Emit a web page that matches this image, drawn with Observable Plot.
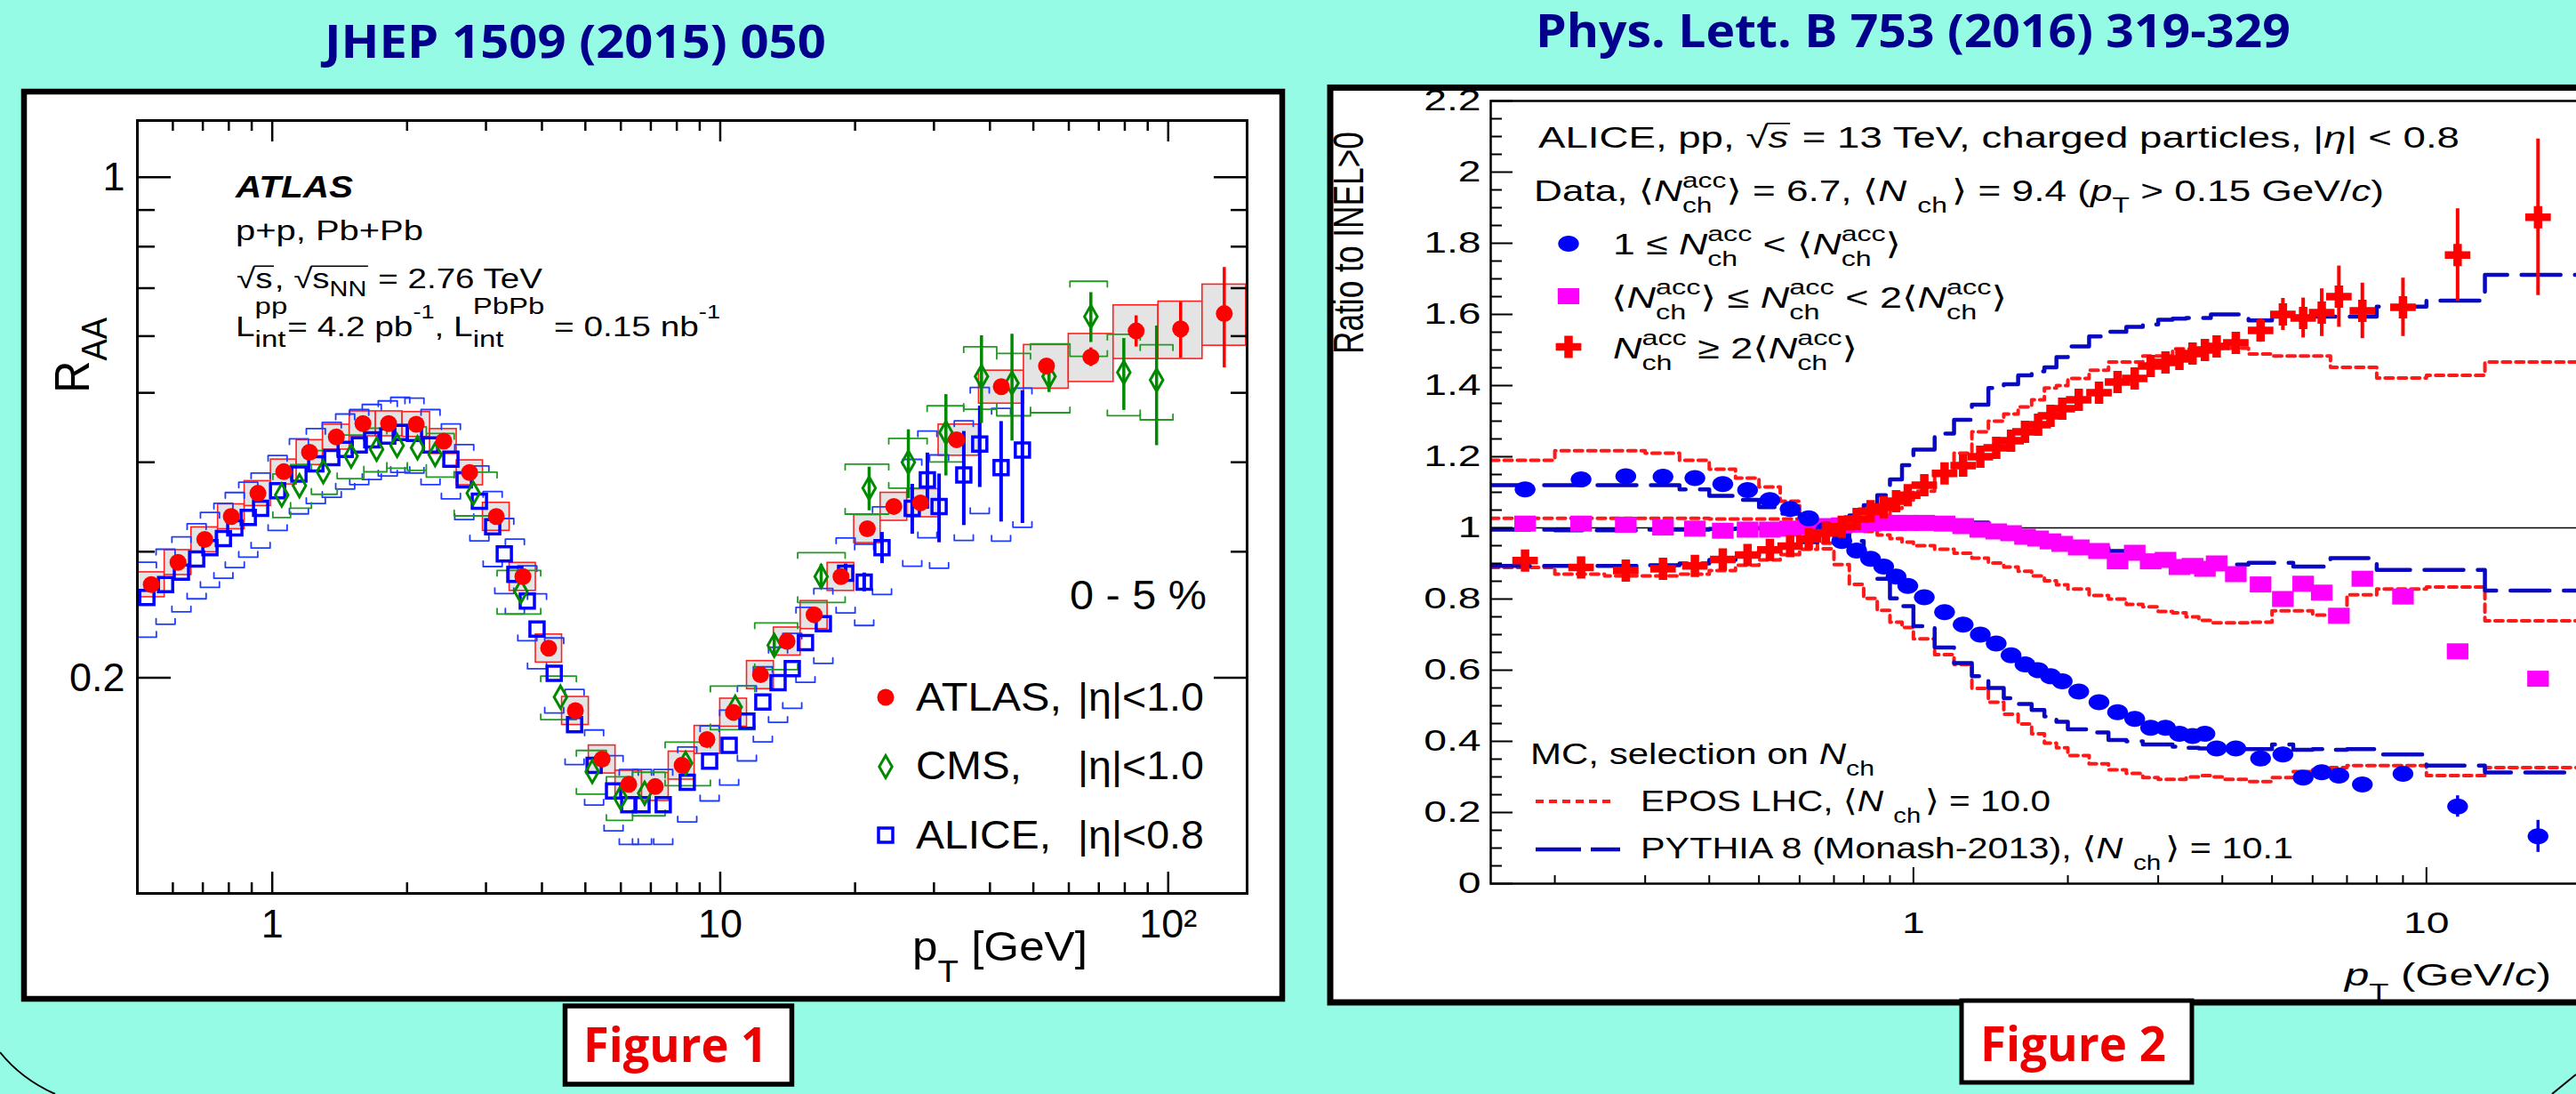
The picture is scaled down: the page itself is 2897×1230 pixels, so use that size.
<!DOCTYPE html>
<html><head><meta charset="utf-8">
<script src="https://cdn.jsdelivr.net/npm/d3@7"></script>
<script src="https://cdn.jsdelivr.net/npm/@observablehq/plot@0.6"></script>
<style>
html,body{margin:0;padding:0;}
body{width:2897px;height:1230px;overflow:hidden;background:#96fbe4;position:relative;}
.layer{position:absolute;left:0;top:0;overflow:visible;}
#leftPlot{position:absolute;left:0;top:0;width:1440px;height:1120px;}
#rightPlot{position:absolute;left:1491px;top:0;width:1420px;height:1128px;}
</style></head><body>
<svg id="base" class="layer" width="2897" height="1230"></svg>
<div id="leftPlot"></div>
<div id="rightPlot"></div>
<svg id="over" class="layer" width="2897" height="1230"></svg>
<script>
// ================= Figure 1 (ATLAS/CMS/ALICE R_AA) =================
const atlasPt  = [0.537,0.616,0.707,0.810,0.929,1.061,1.211,1.390,1.594,1.819,2.096,2.415,2.757,3.162,3.627,4.14,4.75,5.45,6.25,7.16,8.22,9.34,10.7,12.3,14.1,16.2,18.6,21.3,24.4,28.0,33.7,42.4,53.5,67.2,84.8,106.6,133.4];
const atlasRaa = [0.270,0.290,0.312,0.336,0.362,0.388,0.413,0.434,0.453,0.453,0.452,0.428,0.387,0.336,0.277,0.220,0.180,0.154,0.142,0.141,0.151,0.164,0.179,0.202,0.225,0.245,0.277,0.323,0.347,0.351,0.430,0.510,0.545,0.561,0.610,0.614,0.645];
const atlasSys = [0.04,0.04,0.04,0.04,0.04,0.04,0.04,0.04,0.04,0.04,0.04,0.04,0.04,0.045,0.045,0.045,0.045,0.045,0.045,0.045,0.045,0.045,0.045,0.045,0.045,0.045,0.045,0.045,0.045,0.045,0.05,0.053,0.07,0.077,0.086,0.092,0.098];
const atlasStat= [0,0,0,0,0,0,0,0,0,0,0,0,0,0,0,0,0,0,0,0,0,0,0,0,0,0,0,0,0,0,0,0.01,0.015,0.03,0.05,0.09,0.16];

const cmsPt  = [1.05,1.15,1.30,1.50,1.71,1.90,2.11,2.31,2.81,3.59,4.40,5.18,5.99,6.78,8.37,10.8,13.2,16.8,21.5,26.3,31.9,38.3,44.8,54.2,67.2,79.6,94.2];
const cmsRaa = [0.360,0.371,0.388,0.408,0.417,0.422,0.419,0.410,0.362,0.264,0.188,0.148,0.136,0.138,0.152,0.182,0.222,0.277,0.368,0.400,0.440,0.527,0.516,0.527,0.639,0.534,0.521];
const cmsSys = [0.07,0.07,0.07,0.07,0.07,0.07,0.07,0.07,0.07,0.07,0.07,0.07,0.07,0.07,0.07,0.07,0.075,0.08,0.08,0.08,0.09,0.10,0.10,0.11,0.12,0.13,0.12];
const cmsStat= [0,0,0,0,0,0,0,0,0,0,0,0,0,0,0,0,0.03,0.04,0.07,0.11,0.13,0.14,0.17,0.05,0.08,0.115,0.19];

const alicePt  = [0.525,0.578,0.627,0.678,0.726,0.778,0.825,0.884,0.942,1.028,1.147,1.251,1.358,1.455,1.564,1.668,1.811,1.931,2.077,2.256,2.505,2.683,2.90,3.105,3.296,3.48,3.71,3.90,4.26,4.73,5.23,5.78,6.25,6.69,7.46,8.44,9.47,10.47,11.47,12.45,13.46,14.48,15.50,16.99,19.05,20.96,22.97,26.83,29.0,30.8,34.97,37.96,42.36,47.27];
const aliceRaa = [0.259,0.270,0.281,0.293,0.304,0.313,0.324,0.335,0.345,0.365,0.385,0.398,0.406,0.417,0.423,0.430,0.435,0.440,0.439,0.423,0.404,0.378,0.353,0.325,0.298,0.279,0.256,0.234,0.203,0.172,0.151,0.139,0.133,0.133,0.133,0.143,0.153,0.161,0.174,0.185,0.197,0.206,0.224,0.238,0.280,0.272,0.304,0.345,0.378,0.347,0.384,0.424,0.393,0.416];
const aliceSys = [0.12,0.12,0.12,0.12,0.12,0.12,0.12,0.12,0.12,0.12,0.12,0.12,0.12,0.12,0.12,0.12,0.12,0.12,0.12,0.12,0.12,0.12,0.12,0.12,0.12,0.12,0.12,0.12,0.12,0.12,0.12,0.12,0.12,0.12,0.12,0.12,0.12,0.12,0.12,0.12,0.12,0.12,0.12,0.12,0.12,0.13,0.14,0.17,0.17,0.18,0.19,0.20,0.21,0.22];
const aliceStat= [0,0,0,0,0,0,0,0,0,0,0,0,0,0,0,0,0,0,0,0,0,0,0,0,0,0,0,0,0,0,0,0,0,0,0,0,0,0,0,0,0,0,0,0,0.03,0.03,0.05,0.08,0.09,0.11,0.15,0.13,0.16,0.21];

const fig1XTicks = [1,10,100];
const fig1XMinor = [0.6,0.7,0.8,0.9,2,3,4,5,6,7,8,9,20,30,40,50,60,70,80,90];
const fig1YTicks = [0.2,1];
const fig1YMinor = [0.3,0.4,0.5,0.6,0.7,0.8,0.9];

// ================= Figure 2 (ALICE pp 13 TeV ratios) =================
const ptEdges = [0.15,0.2,0.25,0.3,0.35,0.4,0.45,0.5,0.55,0.6,0.65,0.7,0.75,0.8,0.85,0.9,0.95,1.0,1.1,1.2,1.3,1.4,1.5,1.6,1.7,1.8,1.9,2.0,2.2,2.4,2.6,2.8,3.0,3.2,3.4,3.6,3.8,4.0,4.5,5.0,5.5,6.0,6.5,7.0,8.0,10,13,20];
const ptCent  = [0.175,0.225,0.275,0.325,0.375,0.425,0.475,0.525,0.575,0.625,0.675,0.725,0.775,0.825,0.875,0.925,0.975,1.05,1.15,1.25,1.35,1.45,1.55,1.65,1.75,1.85,1.95,2.1,2.3,2.5,2.7,2.9,3.1,3.3,3.5,3.7,3.9,4.25,4.75,5.25,5.75,6.25,6.75,7.5,9,11.5,16.5];
const lowMult  = [1.108,1.136,1.145,1.144,1.140,1.123,1.106,1.078,1.053,1.027,0.995,0.963,0.936,0.913,0.891,0.863,0.837,0.805,0.763,0.728,0.700,0.675,0.642,0.616,0.600,0.583,0.569,0.540,0.510,0.482,0.463,0.438,0.438,0.421,0.415,0.421,0.380,0.380,0.352,0.363,0.298,0.313,0.304,0.279,0.309,0.217,0.133];
const lowErr   = [0,0,0,0,0,0,0,0,0,0,0,0,0,0,0,0,0,0,0,0,0,0,0,0,0,0,0,0,0,0,0,0,0,0,0,0,0,0,0,0,0,0,0,0,0.01,0.03,0.045];
const midMult  = [1.012,1.012,1.009,1.001,0.998,0.992,0.995,0.995,0.998,1.003,1.005,1.007,1.009,1.012,1.014,1.014,1.014,1.014,1.012,1.005,0.995,0.990,0.985,0.975,0.970,0.962,0.955,0.945,0.935,0.906,0.930,0.906,0.910,0.890,0.893,0.885,0.900,0.870,0.841,0.800,0.843,0.818,0.753,0.857,0.807,0.653,0.576];
const midErr   = [0,0,0,0,0,0,0,0,0,0,0,0,0,0,0,0,0,0,0,0,0,0,0,0,0,0,0,0,0,0,0,0,0,0,0,0,0,0,0,0,0,0,0,0.01,0.012,0.01,0.012];
const highMult = [0.908,0.889,0.880,0.885,0.893,0.911,0.924,0.938,0.949,0.969,0.986,1.003,1.025,1.047,1.058,1.075,1.092,1.120,1.153,1.175,1.200,1.225,1.245,1.270,1.290,1.315,1.335,1.360,1.380,1.410,1.420,1.455,1.465,1.475,1.490,1.500,1.510,1.520,1.555,1.600,1.590,1.605,1.650,1.610,1.620,1.767,1.873];
const highErr  = [0,0,0,0,0,0,0,0,0,0,0,0,0,0,0,0,0,0,0,0,0,0,0,0,0,0,0,0,0,0,0,0,0,0,0,0,0,0.02,0.033,0.045,0.056,0.067,0.086,0.078,0.082,0.13,0.22];
const pythiaLow  = [1.12,1.12,1.12,1.12,1.108,1.09,1.079,1.058,1.04,1.02,1.0,0.985,0.963,0.913,0.857,0.802,0.78,0.7235,0.664,0.62,0.583,0.55,0.521,0.505,0.488,0.47,0.455,0.434,0.425,0.404,0.40,0.391,0.391,0.385,0.382,0.38,0.38,0.378,0.378,0.391,0.376,0.378,0.376,0.378,0.363,0.332,0.3125];
const pythiaMid  = [0.995,0.993,0.993,0.995,0.995,0.997,0.998,1.0,1.0,1.0,1.003,1.005,1.008,1.01,1.012,1.015,1.017,1.02,1.02,1.019,1.015,1.005,0.997,0.99,0.98,0.97,0.965,0.955,0.945,0.935,0.925,0.92,0.91,0.905,0.9,0.897,0.897,0.897,0.902,0.902,0.891,0.891,0.915,0.915,0.882,0.882,0.824];
const pythiaHigh = [0.893,0.893,0.893,0.895,0.90,0.91,0.92,0.935,0.945,0.96,0.98,1.005,1.035,1.064,1.092,1.136,1.176,1.22,1.265,1.304,1.346,1.393,1.404,1.429,1.44,1.451,1.48,1.51,1.538,1.551,1.565,1.572,1.585,1.588,1.59,1.59,1.60,1.60,1.583,1.594,1.594,1.594,1.594,1.594,1.622,1.639,1.711];
const eposLow  = [1.19,1.217,1.217,1.21,1.19,1.165,1.14,1.115,1.075,0.985,0.941,0.897,0.841,0.802,0.768,0.735,0.72,0.688,0.644,0.616,0.549,0.51,0.476,0.449,0.421,0.395,0.382,0.36,0.337,0.32,0.31,0.298,0.293,0.293,0.30,0.304,0.30,0.293,0.287,0.298,0.315,0.32,0.326,0.332,0.332,0.304,0.326];
const eposMid  = [1.027,1.027,1.027,1.027,1.027,1.025,1.025,1.025,1.025,1.02,1.015,1.01,1.0,0.99,0.98,0.97,0.96,0.95,0.94,0.929,0.915,0.901,0.89,0.878,0.865,0.851,0.84,0.828,0.81,0.80,0.785,0.778,0.765,0.761,0.75,0.74,0.733,0.733,0.735,0.767,0.767,0.755,0.76,0.812,0.828,0.834,0.739];
const eposHigh = [0.889,0.87,0.865,0.865,0.87,0.88,0.895,0.91,0.925,0.94,0.957,0.975,0.995,1.015,1.035,1.055,1.078,1.103,1.15,1.21,1.27,1.30,1.32,1.34,1.36,1.393,1.40,1.42,1.443,1.466,1.466,1.483,1.483,1.503,1.503,1.503,1.505,1.505,1.489,1.483,1.483,1.483,1.451,1.451,1.421,1.429,1.466];

const fig2XTicks = [1,10];
const fig2XMinor = [0.2,0.3,0.4,0.5,0.6,0.7,0.8,0.9,2,3,4,5,6,7,8,9];
const fig2YTicks = [0,0.2,0.4,0.6,0.8,1,1.2,1.4,1.6,1.8,2,2.2];

// ================= helpers =================
const FONT = "'Liberation Sans', Arial, 'DejaVu Sans', sans-serif";
const sym = draw => ({draw});
const diamondSym = sym((c,s)=>{const r=Math.sqrt(s/Math.PI); c.moveTo(0,-1.4*r); c.lineTo(0.8*r,0); c.lineTo(0,1.4*r); c.lineTo(-0.8*r,0); c.closePath();});
const squareSym  = sym((c,s)=>{const r=Math.sqrt(s/Math.PI); c.rect(-r,-r,2*r,2*r);});
const ellipseSym = sym((c,s)=>{const r=Math.sqrt(s/Math.PI), rx=1.3*r, ry=r, k=0.5523;
  c.moveTo(rx,0); c.bezierCurveTo(rx,ry*k,rx*k,ry,0,ry); c.bezierCurveTo(-rx*k,ry,-rx,ry*k,-rx,0);
  c.bezierCurveTo(-rx,-ry*k,-rx*k,-ry,0,-ry); c.bezierCurveTo(rx*k,-ry,rx,-ry*k,rx,0); c.closePath();});
const rectSym = sym((c,s)=>{const r=Math.sqrt(s/Math.PI); c.rect(-1.35*r,-r,2.7*r,2*r);});
const plusSym = sym((c,s)=>{const r=Math.sqrt(s/Math.PI), hw=1.15*r, hh=r, tx=0.38*r, ty=0.34*r;
  const p=[[-tx,-hh],[tx,-hh],[tx,-ty],[hw,-ty],[hw,ty],[tx,ty],[tx,hh],[-tx,hh],[-tx,ty],[-hw,ty],[-hw,-ty],[-tx,-ty]];
  c.moveTo(p[0][0],p[0][1]); for(const q of p.slice(1)) c.lineTo(q[0],q[1]); c.closePath();});
const symPath = (s,r)=>{const p=d3.path(); s.draw(p,r*r*Math.PI); return p.toString();};

function geoEdges(xs){
  return xs.map((x,i)=>{
    const lo = i>0 ? Math.sqrt(xs[i-1]*x) : x*x/Math.sqrt(x*xs[1]);
    const hi = i<xs.length-1 ? Math.sqrt(x*xs[i+1]) : x*x/Math.sqrt(xs[i-1]*x);
    return [lo,hi];
  });
}
function rows(pt, val, sys, stat, edges){
  return pt.map((x,i)=>({x, y:val[i], sys:sys[i], stat:stat[i], x1:edges[i][0], x2:edges[i][1]}));
}
function bracketPts(data, f){
  const out=[];
  data.forEach((d,i)=>{
    const yt=d.y*(1+d.sys), yb=d.y*(1-d.sys);
    out.push({k:i+"t",x:d.x1,y:yt/f},{k:i+"t",x:d.x1,y:yt},{k:i+"t",x:d.x2,y:yt},{k:i+"t",x:d.x2,y:yt/f});
    out.push({k:i+"b",x:d.x1,y:yb*f},{k:i+"b",x:d.x1,y:yb},{k:i+"b",x:d.x2,y:yb},{k:i+"b",x:d.x2,y:yb*f});
  });
  return out;
}

const atlas = rows(atlasPt, atlasRaa, atlasSys, atlasStat, geoEdges(atlasPt));
const cms   = rows(cmsPt, cmsRaa, cmsSys, cmsStat, geoEdges(cmsPt));
const aliceHW = 1.05;
const alice = rows(alicePt, aliceRaa, aliceSys, aliceStat, alicePt.map(x=>[x/aliceHW, x*aliceHW]));

// ================= Figure 1 plot =================
const W1=1440,H1=1120,mL1=154,mR1=38,mT1=135,mB1=116, fw1=W1-mL1-mR1, fh1=H1-mT1-mB1;
const leftSvg = Plot.plot({
  width:W1, height:H1, marginLeft:mL1, marginRight:mR1, marginTop:mT1, marginBottom:mB1,
  style:{background:"transparent", fontFamily:FONT, fontSize:"45px", color:"black", maxWidth:"none", overflow:"visible"},
  x:{type:"log", domain:[0.5,150], ticks:fig1XTicks, tickFormat:d=>d===100?"10²":String(d), tickSize:0, tickPadding:18, label:null},
  y:{type:"log", domain:[0.1,1.2], ticks:fig1YTicks, tickFormat:d=>d===1?"1":"0.2", tickSize:0, tickPadding:14, label:null},
  marks:[
    Plot.rect(atlas,{x1:"x1",x2:"x2",y1:d=>d.y*(1-d.sys),y2:d=>d.y*(1+d.sys),fill:"#e4e4e4",stroke:"#ff2020",strokeWidth:1.6,clip:true}),
    Plot.line(bracketPts(alice,1.018),{x:"x",y:"y",z:"k",stroke:"#1e3cff",strokeWidth:1.8,clip:true}),
    Plot.line(bracketPts(cms,1.018),{x:"x",y:"y",z:"k",stroke:"#229a22",strokeWidth:1.8,clip:true}),
    Plot.ruleX(alice.filter(d=>d.stat>0),{x:"x",y1:d=>d.y*(1-d.stat),y2:d=>d.y*(1+d.stat),stroke:"#0000ff",strokeWidth:4}),
    Plot.ruleX(cms.filter(d=>d.stat>0),{x:"x",y1:d=>d.y*(1-d.stat),y2:d=>d.y*(1+d.stat),stroke:"#008a00",strokeWidth:3.5}),
    Plot.ruleX(atlas.filter(d=>d.stat>0),{x:"x",y1:d=>d.y*(1-d.stat),y2:d=>d.y*(1+d.stat),stroke:"#ff0000",strokeWidth:3.5,clip:true}),
    Plot.dot(alice,{x:"x",y:"y",symbol:squareSym,r:8,fill:"none",stroke:"#0000ff",strokeWidth:3.5}),
    Plot.dot(cms,{x:"x",y:"y",symbol:diamondSym,r:9,fill:"none",stroke:"#008a00",strokeWidth:3}),
    Plot.dot(atlas,{x:"x",y:"y",r:9.5,fill:"#ff0000"}),
    Plot.ruleX(fig1XMinor,{insetTop:fh1-12,stroke:"black",strokeWidth:2.5}),
    Plot.ruleX(fig1XTicks,{insetTop:fh1-24,stroke:"black",strokeWidth:2.5}),
    Plot.ruleX(fig1XMinor,{insetBottom:fh1-12,stroke:"black",strokeWidth:2.5}),
    Plot.ruleX(fig1XTicks,{insetBottom:fh1-24,stroke:"black",strokeWidth:2.5}),
    Plot.ruleY(fig1YMinor,{insetRight:fw1-20,stroke:"black",strokeWidth:2.5}),
    Plot.ruleY(fig1YTicks,{insetRight:fw1-38,stroke:"black",strokeWidth:2.5}),
    Plot.ruleY(fig1YMinor,{insetLeft:fw1-18,stroke:"black",strokeWidth:2.5}),
    Plot.ruleY(fig1YTicks,{insetLeft:fw1-37,stroke:"black",strokeWidth:2.5}),
    Plot.frame({stroke:"black",strokeWidth:3})
  ]
});
document.getElementById("leftPlot").appendChild(leftSvg);

// ================= Figure 2 plot =================
const stepData = vals => vals.map((v,i)=>({x:ptEdges[i],y:v})).concat([{x:ptEdges[vals.length],y:vals[vals.length-1]}]);
const dataRows = (vals, errs) => ptCent.map((x,i)=>({x, y:vals[i], e:errs[i]}));
const lowRows = dataRows(lowMult, lowErr), midRows = dataRows(midMult, midErr), highRows = dataRows(highMult, highErr);
const fig2YMinor = d3.range(0,2.2001,0.05).map(v=>+v.toFixed(2)).filter(v=>Math.abs(v*5-Math.round(v*5))>1e-6);
const W2=1420,H2=1128,mL2=185,mR2=9,mT2=113,mB2=135, fw2=W2-mL2-mR2, fh2=H2-mT2-mB2;
const EPOS_C="#ff1a1a", PY_C="#0808c4";
const eposStyle = {x:"x",y:"y",curve:"step-after",stroke:EPOS_C,strokeWidth:4,strokeDasharray:"9,6",clip:true};
const pyStyle = {x:"x",y:"y",curve:"step-after",stroke:PY_C,strokeWidth:4.5,strokeDasharray:"44,16",clip:true};
const rightSvg = Plot.plot({
  width:W2, height:H2, marginLeft:mL2, marginRight:mR2, marginTop:mT2, marginBottom:mB2,
  style:{background:"transparent", fontFamily:FONT, fontSize:"34px", color:"black", maxWidth:"none", overflow:"visible"},
  x:{type:"log", domain:[0.15,20], ticks:fig2XTicks, tickFormat:d=>String(d), tickSize:0, tickPadding:31, label:null},
  y:{domain:[0,2.2], ticks:fig2YTicks, tickFormat:d=>Number.isInteger(d)?String(d):d.toFixed(1), tickSize:0, tickPadding:11, label:null},
  marks:[
    Plot.ruleY([1],{stroke:"black",strokeWidth:1.6}),
    Plot.line(stepData(eposLow),eposStyle),
    Plot.line(stepData(eposMid),eposStyle),
    Plot.line(stepData(eposHigh),eposStyle),
    Plot.line(stepData(pythiaLow),pyStyle),
    Plot.line(stepData(pythiaMid),pyStyle),
    Plot.line(stepData(pythiaHigh),pyStyle),
    Plot.ruleX(lowRows.filter(d=>d.e>0),{x:"x",y1:d=>d.y-d.e,y2:d=>d.y+d.e,stroke:"#0000ff",strokeWidth:3.5}),
    Plot.ruleX(midRows.filter(d=>d.e>0),{x:"x",y1:d=>d.y-d.e,y2:d=>d.y+d.e,stroke:"#ff00ff",strokeWidth:3.5}),
    Plot.ruleX(highRows.filter(d=>d.e>0),{x:"x",y1:d=>d.y-d.e,y2:d=>d.y+d.e,stroke:"#ff0000",strokeWidth:4}),
    Plot.dot(midRows,{x:"x",y:"y",symbol:rectSym,r:9,fill:"#ff00ff",clip:true}),
    Plot.dot(lowRows,{x:"x",y:"y",symbol:ellipseSym,r:9,fill:"#0000ff",clip:true}),
    Plot.dot(highRows,{x:"x",y:"y",symbol:plusSym,r:12.5,fill:"#ff0000",clip:true}),
    Plot.ruleX(fig2XMinor,{insetTop:fh2-9,stroke:"black",strokeWidth:2}),
    Plot.ruleX(fig2XTicks,{insetTop:fh2-18,stroke:"black",strokeWidth:2}),
    Plot.ruleY(fig2YMinor,{insetRight:fw2-13,stroke:"black",strokeWidth:2}),
    Plot.ruleY(fig2YTicks,{insetRight:fw2-25,stroke:"black",strokeWidth:2}),
    Plot.frame({stroke:"black",strokeWidth:2.5})
  ]
});
document.getElementById("rightPlot").appendChild(rightSvg);
// Figure 2 is horizontally stretched on the slide: stretch its tick labels too
d3.select(rightSvg).selectAll('g[aria-label^="x-axis"] text, g[aria-label^="y-axis"] text').each(function(){
  const tr=this.getAttribute("transform")||""; this.setAttribute("transform", tr+" scale(1.36,1)");
});

// ================= slide decoration & texts =================
const base = d3.select("#base"), over = d3.select("#over");
base.append("rect").attr("x",27).attr("y",103).attr("width",1415).attr("height",1020).attr("fill","white").attr("stroke","black").attr("stroke-width",6.5);
base.append("rect").attr("x",1496).attr("y",98.5).attr("width",1420).attr("height",1028.5).attr("fill","white").attr("stroke","black").attr("stroke-width",7);

function rich(parent, o){
  const {x,y,tokens,size,width=null,length=null,family=FONT,weight=null,italic=false,fill="black",rotate=false,stretch=1} = o;
  const outer=parent.append("g"), inner=outer.append("g");
  let cx=0;
  const put=(txt,fs,dy,op={})=>{
    const t=inner.append("text").attr("x",cx).attr("y",dy).attr("font-size",fs).attr("font-family",op.family||family)
      .attr("fill",fill).style("white-space","pre").text(txt);
    const it = op.it!==undefined?op.it:italic; if(it) t.attr("font-style","italic");
    const b = op.b!==undefined?op.b:weight; if(b) t.attr("font-weight",b);
    return t.node().getComputedTextLength();
  };
  const run=toks=>{
    for(const tk of toks){
      if(typeof tk==="string") cx+=put(tk,size,0);
      else if(tk.sqrt){
        cx+=put("√",size,0,{it:false});
        const x0=cx; run(tk.sqrt);
        inner.append("line").attr("x1",x0-size*0.04).attr("x2",cx+size*0.04).attr("y1",-size*0.8).attr("y2",-size*0.8).attr("stroke",fill).attr("stroke-width",size*0.05);
        cx+=size*0.06;
      } else if(tk.sub!==undefined||tk.sup!==undefined){
        const sc=tk.sc||0.72, c0=cx; let w=0;
        if(tk.sup!==undefined){cx=c0; w=Math.max(w,put(tk.sup,size*sc,tk.supDy!==undefined?tk.supDy:-size*0.55,{it:false}));}
        if(tk.sub!==undefined){cx=c0; w=Math.max(w,put(tk.sub,size*sc,tk.subDy!==undefined?tk.subDy:size*0.36,{it:false}));}
        cx=c0+w+(tk.gap||0);
      } else if(tk.t!==undefined) cx+=put(tk.t,size*(tk.s||1),tk.dy||0,tk);
    }
  };
  run(tokens);
  const target = length||width||cx, k=target/cx;
  inner.attr("transform", rotate?`rotate(-90) scale(${k},1)`:`scale(${k},1)`);
  outer.attr("transform", `translate(${x},${y})`+(stretch!==1?` scale(${stretch},1)`:""));
}

// Titles
rich(over,{x:365,y:65,tokens:["JHEP 1509 (2015) 050"],size:52,width:564,family:"'Open Sans', 'Noto Sans', sans-serif",weight:700,fill:"#00008c"});
rich(over,{x:1727,y:53,tokens:["Phys. Lett. B 753 (2016) 319-329"],size:52,width:849,family:"'Open Sans', 'Noto Sans', sans-serif",weight:700,fill:"#00008c"});

// Figure labels
over.append("rect").attr("x",635.5).attr("y",1131).attr("width",255).attr("height",88).attr("fill","white").attr("stroke","black").attr("stroke-width",5.5);
over.append("rect").attr("x",2206).attr("y",1125).attr("width",259).attr("height",92).attr("fill","white").attr("stroke","black").attr("stroke-width",5);
rich(over,{x:656,y:1194,tokens:["Figure 1"],size:54,width:207,family:"'Open Sans', 'Noto Sans', sans-serif",weight:700,fill:"#ee0000"});
rich(over,{x:2227,y:1193,tokens:["Figure 2"],size:54,width:209,family:"'Open Sans', 'Noto Sans', sans-serif",weight:700,fill:"#ee0000"});
over.append("path").attr("d","M0,1183 Q24,1213 62,1230").attr("fill","none").attr("stroke","black").attr("stroke-width",2);
over.append("path").attr("d","M2870,1230 L2897,1208").attr("fill","none").attr("stroke","black").attr("stroke-width",2);

// ---- Figure 1 annotations ----
rich(over,{x:265,y:222,tokens:["ATLAS"],size:35,width:132,weight:700,italic:true});
rich(over,{x:265,y:270,tokens:["p+p, Pb+Pb"],size:31,width:211});
rich(over,{x:266,y:324,tokens:[{sqrt:["s"]},", ",{sqrt:["s",{sub:"NN",sc:0.75,subDy:9}]}," = 2.76 TeV"],size:31,width:344});
rich(over,{x:265,y:378,tokens:["L",{sup:"pp",sub:"int",supDy:-25,subDy:12,sc:0.85},"= 4.2 pb",{sup:"-1",supDy:-20,sc:0.7},", L",{sup:"PbPb",sub:"int",supDy:-25,subDy:12,sc:0.85}," = 0.15 nb",{sup:"-1",supDy:-20,sc:0.7}],size:31,width:545});
rich(over,{x:1203,y:685,tokens:["0 - 5 %"],size:46,width:154});
// legend
over.append("circle").attr("cx",996).attr("cy",784).attr("r",9.5).attr("fill","#ff0000");
over.append("path").attr("d",symPath(diamondSym,9)).attr("transform","translate(996,862)").attr("fill","none").attr("stroke","#008a00").attr("stroke-width",3);
over.append("path").attr("d",symPath(squareSym,8)).attr("transform","translate(996,939)").attr("fill","none").attr("stroke","#0000ff").attr("stroke-width",3.5);
rich(over,{x:1030,y:799,tokens:["ATLAS,"],size:45,width:164});
rich(over,{x:1212,y:799,tokens:["|η|<1.0"],size:45,width:142});
rich(over,{x:1030,y:876,tokens:["CMS,"],size:45,width:119});
rich(over,{x:1212,y:876,tokens:["|η|<1.0"],size:45,width:142});
rich(over,{x:1030,y:954,tokens:["ALICE,"],size:45,width:152});
rich(over,{x:1212,y:954,tokens:["|η|<0.8"],size:45,width:142});
// axis titles
rich(over,{x:1026,y:1080,tokens:["p",{sub:"T",sc:0.75,subDy:24}," [GeV]"],size:47,width:197});
rich(over,{x:100,y:442,tokens:["R",{sub:"AA",sc:0.72,subDy:20}],size:56,length:85,rotate:true});

// ---- Figure 2 annotations ----
const N = {t:"N",it:true};
const acc = {sup:"acc",sub:"ch",supDy:-15,subDy:13,sc:0.72};
const ch = {sub:"ch",subDy:13,sc:0.72,gap:4};
rich(over,{x:1730,y:166,tokens:["ALICE, pp, ",{sqrt:[{t:"s",it:true}]}," = 13 TeV, charged particles, |",{t:"η",it:true},"| < 0.8"],size:34,width:1036});
rich(over,{x:1725,y:226,tokens:["Data, ⟨",N,acc,"⟩ = 6.7, ⟨",N," ",ch,"⟩ = 9.4 (",{t:"p",it:true},{sub:"T",subDy:13,sc:0.72}," > 0.15 GeV/",{t:"c",it:true},")"],size:34,width:956});
rich(over,{x:1814,y:286,tokens:["1 ≤ ",N,acc," < ⟨",N,acc,"⟩"],size:34,width:324});
rich(over,{x:1812,y:346,tokens:["⟨",N,acc,"⟩ ≤ ",N,acc," < 2⟨",N,acc,"⟩"],size:34,width:445});
rich(over,{x:1814,y:403,tokens:[N,acc," ≥ 2⟨",N,acc,"⟩"],size:34,width:275});
rich(over,{x:1721,y:859,tokens:["MC, selection on ",N,ch],size:34,width:392});
rich(over,{x:1845,y:912,tokens:["EPOS LHC, ⟨",N," ",ch,"⟩ = 10.0"],size:34,width:461});
rich(over,{x:1845,y:965,tokens:["PYTHIA 8 (Monash-2013), ⟨",N," ",ch,"⟩ = 10.1"],size:34,width:734});
rich(over,{x:2637,y:1108,tokens:[{t:"p",it:true},{sub:"T",subDy:16,sc:0.74}," (GeV/",{t:"c",it:true},")"],size:36,width:232});
rich(over,{x:1533,y:398,tokens:["Ratio to INEL>0"],size:35,length:250,rotate:true,stretch:1.36});
// legend symbols
over.append("path").attr("d",symPath(ellipseSym,9)).attr("transform","translate(1764,274)").attr("fill","#0000ff");
over.append("path").attr("d",symPath(rectSym,9)).attr("transform","translate(1764,333)").attr("fill","#ff00ff");
over.append("path").attr("d",symPath(plusSym,12.5)).attr("transform","translate(1764,390)").attr("fill","#ff0000");
over.append("line").attr("x1",1727).attr("x2",1815).attr("y1",901).attr("y2",901).attr("stroke",EPOS_C).attr("stroke-width",4).attr("stroke-dasharray","9,6");
over.append("line").attr("x1",1727).attr("x2",1822).attr("y1",955).attr("y2",955).attr("stroke",PY_C).attr("stroke-width",4.5).attr("stroke-dasharray","51,11");
</script>
</body></html>
